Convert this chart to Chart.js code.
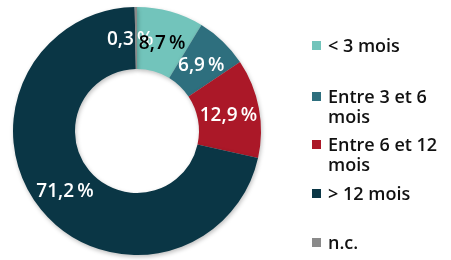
<!DOCTYPE html>
<html>
<head>
<meta charset="utf-8">
<script src="https://cdn.jsdelivr.net/npm/chart.js@4"></script>
<style>
  html, body { margin: 0; padding: 0; background: #fff; }
  #wrap { position: relative; width: 451px; height: 260px; }
  #chart { position: absolute; left: 0; top: 0; }
  .leg { position: absolute; left: 312px; font-family: "Open Sans", Lato, sans-serif; font-size: 18px; font-weight: 600; line-height: 20px; color: #111; width: 145px; }
  .leg span.box { position: absolute; left: 0; top: 6px; width: 9px; height: 9px; }
  .leg div.txt { margin-left: 16px; }
</style>
</head>
<body>
<div id="wrap">
  <canvas id="chart" width="451" height="260"></canvas>
</div>
<script>
// Données
const categories = ['< 3 mois', 'Entre 3 et  6 mois', 'Entre 6 et 12 mois', '> 12 mois', 'n.c.'];
const valeurs = [8.7, 6.9, 12.9, 71.2, 0.3];
const etiquettes = ['8,7\u2009%', '6,9\u2009%', '12,9\u2009%', '71,2\u2009%', '0,3\u2009%'];

// Styles
const couleurs = ['#72c4bb', '#2e6f7e', '#ab1828', '#0a3645', '#8a8a8a'];
const couleursTexte = ['#000', '#fff', '#fff', '#fff', '#fff'];
const legendeTop = [35, 86, 134, 183, 232];

// Plugin pour écrire les pourcentages dans les parts
const pourcentages = {
    id: 'pourcentages',
    afterDatasetsDraw(chart) {
        const ctx = chart.ctx;
        const arcs = chart.getDatasetMeta(0).data;
        ctx.save();
        ctx.font = '600 19px "Open Sans", Lato, sans-serif';
        ctx.textAlign = 'center';
        ctx.textBaseline = 'middle';
        // on dessine le 0,3 d'abord pour que 8,7 passe par-dessus
        const ordre = [4, 0, 1, 2, 3];
        ordre.forEach(i => {
            const p = arcs[i].tooltipPosition();
            ctx.fillStyle = couleursTexte[i];
            const dx = i === 4 ? -6 : 0;
            ctx.fillText(etiquettes[i], p.x + dx, p.y + 2);
        });
        ctx.restore();
    }
};

// Ombre légère autour de l'anneau
const ombre = {
    id: 'ombre',
    beforeDatasetsDraw(chart) {
        chart.ctx.save();
        chart.ctx.shadowColor = 'rgba(0,0,0,0.25)';
        chart.ctx.shadowBlur = 4;
        chart.ctx.shadowOffsetX = 1;
        chart.ctx.shadowOffsetY = 2;
    },
    afterDatasetsDraw(chart) {
        chart.ctx.restore();
    }
};

const ctx = document.getElementById('chart').getContext('2d');
const graphique = new Chart(ctx, {
    type: 'doughnut',
    data: {
        labels: categories,
        datasets: [{
            data: valeurs,
            backgroundColor: couleurs,
            borderWidth: 0
        }]
    },
    options: {
        responsive: false,
        animation: false,
        cutout: '50%',
        layout: { padding: { left: 13, right: 190, top: 7, bottom: 5 } },
        plugins: {
            legend: { display: false },
            tooltip: { enabled: false }
        }
    },
    plugins: [ombre, pourcentages]
});

// Légende en HTML
const wrap = document.getElementById('wrap');
categories.forEach((c, i) => {
    const d = document.createElement('div');
    d.className = 'leg';
    d.style.top = legendeTop[i] + 'px';
    d.innerHTML = '<span class="box" style="background:' + couleurs[i] + '"></span><div class="txt"></div>';
    d.querySelector('.txt').textContent = c;
    wrap.appendChild(d);
});
</script>
</body>
</html>
